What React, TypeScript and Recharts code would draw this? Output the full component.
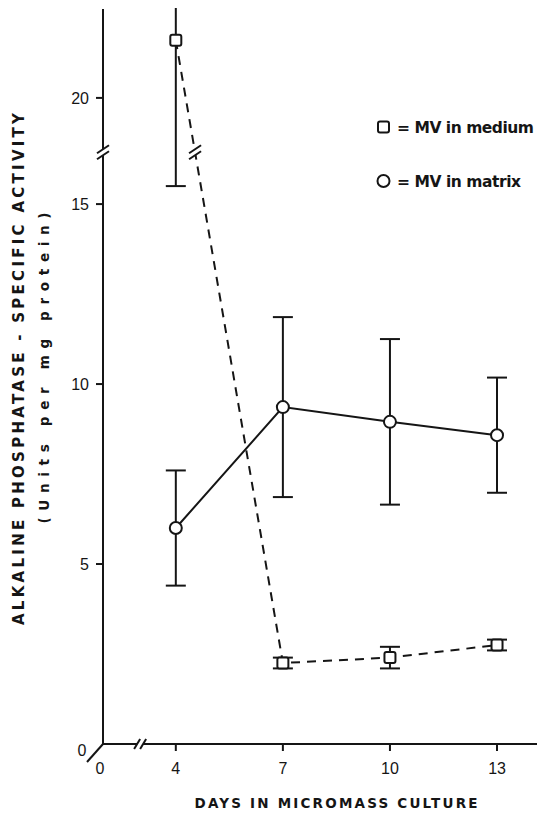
import {
  LineChart,
  Line,
  XAxis,
  YAxis,
  ErrorBar,
  ReferenceDot,
  Legend,
} from "recharts";

const days = [4, 7, 10, 13];
const mediumMean = [21.6, 2.25, 2.4, 2.75];
const mediumSd = [6.1, 0.15, 0.3, 0.15];
const matrixMean = [6.0, 9.36, 8.95, 8.58];
const matrixSd = [1.6, 2.5, 2.3, 1.6];
const yTickValues = [0, 5, 10, 15, 20];
const xTickValues = [0, 4, 7, 10, 13];
const legendOrder = ["medium", "matrix"];

// both axes are broken: y skips a band above the break, x skips days 1-3
const Y_BREAK = 16.44;
const Y_GAP = 2.05;
const Y_TOP = 20.42;
const X_GAP = 1.96;
const X_END = 12.16;

const ink = "#151515";
const titleFont = "'DejaVu Sans', Lato, sans-serif";
const tickFont = "'Liberation Sans', Arial, sans-serif";

const ty = (v: number) => (v >= Y_BREAK + Y_GAP ? v - Y_GAP : v);
const tx = (d: number) => (d > 0 ? d - X_GAP : d);

const data = days.map((d, i) => {
  const m = ty(mediumMean[i]);
  const c = ty(matrixMean[i]);
  return {
    x: tx(d),
    medium: m,
    mediumErr: [
      m - ty(mediumMean[i] - mediumSd[i]),
      ty(mediumMean[i] + mediumSd[i]) - m,
    ],
    matrix: c,
    matrixErr: [
      c - ty(matrixMean[i] - matrixSd[i]),
      ty(matrixMean[i] + matrixSd[i]) - c,
    ],
  };
});

// where the dashed line crosses the y break
const lineBreakX =
  data[0].x +
  ((data[0].medium - Y_BREAK) / (data[0].medium - data[1].medium)) *
    (data[1].x - data[0].x);

const SquareDot = (p: any) => {
  if (p.cx == null || p.cy == null) return null;
  return (
    <rect
      x={p.cx - 5.5}
      y={p.cy - 5.5}
      width={11}
      height={11}
      rx={2}
      fill="#fff"
      stroke={ink}
      strokeWidth={2}
    />
  );
};

const CircleDot = (p: any) => {
  if (p.cx == null || p.cy == null) return null;
  return <circle cx={p.cx} cy={p.cy} r={6} fill="#fff" stroke={ink} strokeWidth={2} />;
};

// "//" break mark; vertical=true stacks the strokes up/down
const SlashPair = ({ cx, cy, vertical }: any) => {
  if (cx == null || cy == null) return null;
  const hx = vertical ? 6 : 3;
  const hy = vertical ? 4 : 5;
  const ox = vertical ? 0 : 3;
  const oy = vertical ? 3 : 0;
  const pts = [
    [cx - ox - hx, cy - oy + hy],
    [cx - ox + hx, cy - oy - hy],
    [cx + ox + hx, cy + oy - hy],
    [cx + ox - hx, cy + oy + hy],
  ];
  return (
    <g>
      <polygon points={pts.map((q) => q.join(",")).join(" ")} fill="#fff" />
      <line x1={pts[0][0]} y1={pts[0][1]} x2={pts[1][0]} y2={pts[1][1]} stroke={ink} strokeWidth={2} />
      <line x1={pts[3][0]} y1={pts[3][1]} x2={pts[2][0]} y2={pts[2][1]} stroke={ink} strokeWidth={2} />
    </g>
  );
};

const OriginSlash = ({ cx, cy }: any) => {
  if (cx == null || cy == null) return null;
  return <line x1={cx} y1={cy} x2={cx - 16} y2={cy + 18} stroke={ink} strokeWidth={2} />;
};

// white band above the plot so the clipped error bar stops at the axis top
const TopMask = ({ cx, cy }: any) => {
  if (cx == null || cy == null) return null;
  return <rect x={cx + 4} y={cy - 40} width={440} height={39} fill="#fff" />;
};

const YTick = ({ x, y, payload }: any) => {
  const v = payload.value;
  const label = Math.round(v > Y_BREAK ? v + Y_GAP : v);
  if (v === 0) {
    return (
      <text x={x - 21} y={y + 12} textAnchor="middle" fontFamily={tickFont} fontSize={16} fill={ink}>
        0
      </text>
    );
  }
  return (
    <g>
      <line x1={x - 7} y1={y} x2={x} y2={y} stroke={ink} strokeWidth={2} />
      <text x={x - 14} y={y + 6} textAnchor="end" fontFamily={tickFont} fontSize={16} fill={ink}>
        {label}
      </text>
    </g>
  );
};

const XTick = ({ x, y, payload }: any) => {
  const v = payload.value;
  const label = Math.round(v > 0 ? v + X_GAP : v);
  if (v === 0) {
    return (
      <text x={x - 3} y={y + 30} textAnchor="middle" fontFamily={tickFont} fontSize={16} fill={ink}>
        0
      </text>
    );
  }
  return (
    <g>
      <line x1={x} y1={y} x2={x} y2={y + 7} stroke={ink} strokeWidth={2} />
      <text x={x} y={y + 30} textAnchor="middle" fontFamily={tickFont} fontSize={16} fill={ink}>
        {label}
      </text>
    </g>
  );
};

const YTitle = () => (
  <g>
    <text
      transform="translate(24, 369) rotate(-90)"
      textAnchor="middle"
      fontFamily={titleFont}
      fontWeight={700}
      fontSize={15}
      fill={ink}
      textLength={512}
      lengthAdjust="spacing"
    >
      ALKALINE PHOSPHATASE - SPECIFIC ACTIVITY
    </text>
    <text
      transform="translate(49, 368) rotate(-90)"
      textAnchor="middle"
      fontFamily={titleFont}
      fontWeight={700}
      fontSize={13.5}
      fill={ink}
      textLength={311}
      lengthAdjust="spacing"
    >
      (Units per mg protein)
    </text>
  </g>
);

const XTitle = () => (
  <text
    x={336}
    y={808}
    textAnchor="middle"
    fontFamily={titleFont}
    fontWeight={700}
    fontSize={13.5}
    fill={ink}
    textLength={283}
    lengthAdjust="spacing"
  >
    DAYS IN MICROMASS CULTURE
  </text>
);

const legendLengths: Record<string, number> = { medium: 137, matrix: 124 };

const LegendContent = ({ payload }: any) => {
  const items = [...(payload ?? [])].sort(
    (a: any, b: any) => legendOrder.indexOf(a.dataKey) - legendOrder.indexOf(b.dataKey)
  );
  return (
    <svg width={168} height={90}>
      {items.map((entry: any, i: number) => {
        const cy = 16 + i * 54;
        return (
          <g key={entry.dataKey}>
            {entry.dataKey === "medium" ? (
              <rect x={3} y={cy - 5.5} width={11} height={11} rx={2} fill="#fff" stroke={ink} strokeWidth={2} />
            ) : (
              <circle cx={8.5} cy={cy} r={6} fill="#fff" stroke={ink} strokeWidth={2} />
            )}
            <text
              x={22}
              y={cy + 6}
              fontFamily={titleFont}
              fontWeight={700}
              fontSize={15.5}
              fill={ink}
              textLength={legendLengths[entry.dataKey]}
              lengthAdjust="spacing"
            >
              = {entry.value}
            </text>
          </g>
        );
      })}
    </svg>
  );
};

export default function App() {
  return (
    <div style={{ position: "absolute", left: 0, top: 0, background: "#fff" }}>
      <LineChart
        width={538}
        height={815}
        data={data}
        margin={{ top: 9, right: 1, left: 0, bottom: 0 }}
      >
        <XAxis
          type="number"
          dataKey="x"
          domain={[0, X_END]}
          ticks={xTickValues.map(tx)}
          interval={0}
          allowDataOverflow
          axisLine={{ stroke: ink, strokeWidth: 2 }}
          tickLine={false}
          tickSize={0}
          tickMargin={0}
          height={71}
          tick={<XTick />}
          label={{ content: () => <XTitle /> }}
        />
        <YAxis
          type="number"
          domain={[0, Y_TOP]}
          ticks={yTickValues.map(ty)}
          interval={0}
          allowDataOverflow
          axisLine={{ stroke: ink, strokeWidth: 2 }}
          tickLine={false}
          tickSize={0}
          tickMargin={0}
          width={103}
          tick={<YTick />}
          label={{ content: () => <YTitle /> }}
        />
        <Legend
          layout="vertical"
          align="center"
          verticalAlign="middle"
          content={<LegendContent />}
          wrapperStyle={{ left: 375, top: 111, width: 168, height: 90 }}
        />
        <Line
          name="MV in medium"
          dataKey="medium"
          stroke={ink}
          strokeWidth={2}
          strokeDasharray="9 7"
          dot={(p: any) => <SquareDot key={`sq-${p.index}`} {...p} />}
          activeDot={false}
          isAnimationActive={false}
        >
          <ErrorBar dataKey="mediumErr" width={10} stroke={ink} strokeWidth={2} direction="y" isAnimationActive={false} />
        </Line>
        <Line
          name="MV in matrix"
          dataKey="matrix"
          stroke={ink}
          strokeWidth={2}
          dot={(p: any) => <CircleDot key={`ci-${p.index}`} {...p} />}
          activeDot={false}
          isAnimationActive={false}
        >
          <ErrorBar dataKey="matrixErr" width={10} stroke={ink} strokeWidth={2} direction="y" isAnimationActive={false} />
        </Line>
        <ReferenceDot x={0} y={Y_TOP} r={0} ifOverflow="visible" shape={(p: any) => <TopMask {...p} />} />
        <ReferenceDot x={0} y={Y_BREAK} r={0} ifOverflow="visible" shape={(p: any) => <SlashPair {...p} vertical />} />
        <ReferenceDot x={1.04} y={0} r={0} ifOverflow="visible" shape={(p: any) => <SlashPair {...p} />} />
        <ReferenceDot x={lineBreakX} y={Y_BREAK} r={0} ifOverflow="visible" shape={(p: any) => <SlashPair {...p} vertical />} />
        <ReferenceDot x={0} y={0} r={0} ifOverflow="visible" shape={(p: any) => <OriginSlash {...p} />} />
      </LineChart>
    </div>
  );
}
